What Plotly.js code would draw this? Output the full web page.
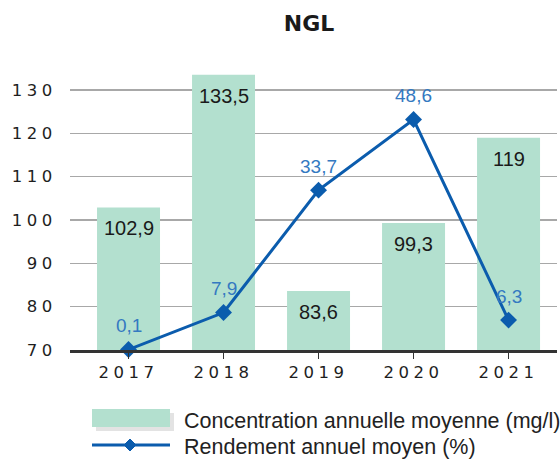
<!DOCTYPE html>
<html><head><meta charset="utf-8">
<script src="https://cdn.plot.ly/plotly-3.0.1.min.js"></script>
<style>
html,body{margin:0;padding:0;background:#fff;}
#chart{width:560px;height:459px;}
.xtick text,.ytick text{letter-spacing:4.5px;}
</style></head><body><div id="chart"></div>
<script>
const years = ['2017','2018','2019','2020','2021'];
const concentration = [102.9, 133.5, 83.6, 99.3, 119];
const rendement = [0.1, 7.9, 33.7, 48.6, 6.3];
const yTicks = [70, 80, 90, 100, 110, 120, 130];
const seriesNames = ['Concentration annuelle moyenne (mg/l)', 'Rendement annuel moyen (%)'];

const fmt = v => String(v).replace('.', ',');
const barColor = '#b3e0cf';
const lineColor = '#0b5cad';
const labelBlue = '#3479c1';

// plot area in pixels
const L = 70, R = 557, T = 64, B = 350;
const px = x => (x - L) / (R - L);
const py = y => (B - y) / (B - T);

const annotations = [];
years.forEach((yr, i) => {
  annotations.push({x: i, y: concentration[i], xref: 'x', yref: 'y', text: fmt(concentration[i]),
    showarrow: false, yanchor: 'middle', yshift: -21,
    font: {family: 'Liberation Sans, Arial, sans-serif', size: 20, color: '#1a1a1a'}});
  annotations.push({x: i, y: rendement[i], xref: 'x', yref: 'y2', text: fmt(rendement[i]),
    showarrow: false, yanchor: 'middle', yshift: 24,
    font: {family: 'Liberation Sans, Arial, sans-serif', size: 19, color: labelBlue}});
});
// legend texts
annotations.push({xref: 'paper', yref: 'paper', x: px(182), y: py(421), xanchor: 'left', yanchor: 'middle',
  text: seriesNames[0], showarrow: false, font: {family: 'Liberation Sans, Arial, sans-serif', size: 21.5, color: '#222'}});
annotations.push({xref: 'paper', yref: 'paper', x: px(182), y: py(446.5), xanchor: 'left', yanchor: 'middle',
  text: seriesNames[1], showarrow: false, font: {family: 'Liberation Sans, Arial, sans-serif', size: 21.5, color: '#222'}});

const shapes = [
  {type: 'rect', xref: 'paper', yref: 'paper', x0: px(96), x1: px(174), y0: py(413), y1: py(431), fillcolor: '#e3e3e3', line: {width: 0}},
  {type: 'rect', xref: 'paper', yref: 'paper', x0: px(92), x1: px(170), y0: py(409), y1: py(427), fillcolor: barColor, line: {width: 0}},
  {type: 'line', xref: 'paper', yref: 'paper', x0: px(92), x1: px(170), y0: py(445), y1: py(445), line: {color: lineColor, width: 3}},
  {type: 'path', xref: 'paper', yref: 'paper',
    path: `M${px(124)},${py(445)} L${px(130)},${py(439)} L${px(136)},${py(445)} L${px(130)},${py(451)} Z`,
    fillcolor: lineColor, line: {color: lineColor, width: 1}}
];

const traces = [
  {type: 'bar', x: years, y: concentration, name: seriesNames[0], marker: {color: barColor}, hoverinfo: 'x+y'},
  {type: 'scatter', mode: 'lines+markers', x: years, y: rendement, yaxis: 'y2', name: seriesNames[1],
    line: {color: lineColor, width: 3}, marker: {symbol: 'diamond', size: 13, color: lineColor}, cliponaxis: false}
];

const layout = {
  width: 560, height: 459,
  margin: {l: L, r: 560 - R, t: T, b: 459 - B, pad: 0},
  paper_bgcolor: '#fff', plot_bgcolor: '#fff',
  showlegend: false,
  bargap: 0.337,
  title: {text: 'NGL', x: 309 / 560, xanchor: 'center', y: 1 - 23 / 459, yanchor: 'middle',
    font: {family: 'DejaVu Sans, Verdana, sans-serif', size: 22, weight: 'bold', color: '#1a1a1a'}},
  xaxis: {type: 'category', range: [-0.616, 4.51], showgrid: false, zeroline: false,
    showline: true, linecolor: '#333', linewidth: 2.5,
    ticks: 'outside', ticklen: 6, tickwidth: 1.5, tickcolor: '#333',
    tickfont: {family: 'DejaVu Sans, Verdana, sans-serif', size: 16.5, color: '#1e1e1e'}},
  yaxis: {range: [70, 136], tickvals: yTicks, showgrid: true, gridcolor: '#a8a8a8', gridwidth: 1.5,
    zeroline: false, showline: false, ticks: 'outside', ticklen: 9, tickcolor: 'rgba(0,0,0,0)',
    tickfont: {family: 'DejaVu Sans, Verdana, sans-serif', size: 16.5, color: '#1e1e1e'}},
  yaxis2: {overlaying: 'y', range: [0, 60.3], visible: false},
  annotations: annotations,
  shapes: shapes
};

Plotly.newPlot('chart', traces, layout, {displayModeBar: false, staticPlot: true});
</script></body></html>
